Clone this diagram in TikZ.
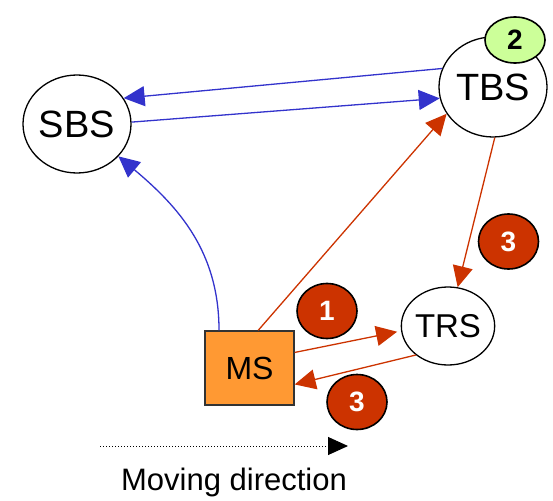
\documentclass[tikz,border=0pt]{standalone}
\usepackage{fontspec}
\setmainfont{Liberation Sans}
\usetikzlibrary{arrows.meta,shapes.geometric}
\definecolor{sigblue}{HTML}{3333CC}
\definecolor{sigred}{HTML}{CC3300}
\definecolor{msorange}{HTML}{FF9933}
\definecolor{stepgreen}{HTML}{CCFF99}
\begin{document}
\begin{tikzpicture}[x=1pt,y=-1pt,
    station/.style={ellipse,draw,line width=1.3pt,inner sep=0pt,fill=white},
    badge/.style={ellipse,draw,line width=1.6pt,inner sep=0pt,minimum width=60pt,
      font=\fontsize{28}{30}\selectfont\bfseries},
    blueline/.style={sigblue,line width=1.3pt,-{Triangle[length=21pt,width=20pt]}},
    redline/.style={sigred,line width=1.3pt,-{Triangle[length=21pt,width=20pt]}}]
    \useasboundingbox (0,0) rectangle (553,500);
    % stations
    \node[station,minimum width=108pt,minimum height=98pt,font=\fontsize{38}{42}\selectfont] (sbs) at (77,124) {SBS};
    \node[station,minimum width=108pt,minimum height=100pt,font=\fontsize{38}{42}\selectfont] (tbs) at (493,87) {TBS};
    \node[station,minimum width=92pt,minimum height=78pt,font=\fontsize{33}{36}\selectfont] (trs) at (448,326) {TRS};
    \node[draw=black!80,fill=msorange,line width=1.3pt,minimum width=89pt,minimum height=74pt,
      font=\fontsize{32}{36}\selectfont] (ms) at (249.5,368) {MS};
    % step numbers
    \node[badge,fill=stepgreen,minimum height=46pt] (n2) at (515,40) {2};
    \node[badge,fill=sigred,text=white,minimum height=55pt] (n1) at (327,311) {1};
    \node[badge,fill=sigred,text=white,minimum height=55pt] (n3a) at (508.5,241.5) {3};
    \node[badge,fill=sigred,text=white,minimum height=55pt] (n3b) at (357,402) {3};
    % blue signalling
    \draw[blueline] (tbs.160) -- (sbs.29);
    \draw[blueline] (sbs.2) -- (tbs.192);
    \draw[blueline] (ms.129) to[out=90,in=-40] (sbs.-38);
    % red signalling
    \draw[redline] (ms.77) -- (tbs.210);
    \draw[redline] (tbs.272) -- (trs.76);
    \draw[redline,shorten >=4pt] (ms.19) -- (trs.186);
    \draw[redline] (trs.222) -- (ms.-20);
    % moving direction
    \coordinate (mvstart) at (100,446);
    \coordinate (mvend) at (348,446);
    \draw[line width=1pt,dash pattern=on 1pt off 2pt,-{Triangle[length=20pt,width=18pt]}] (mvstart) -- (mvend);
    \node[anchor=base,font=\fontsize{31}{34}\selectfont] (mvlabel) at (234,490) {Moving direction};
\end{tikzpicture}
\end{document}
